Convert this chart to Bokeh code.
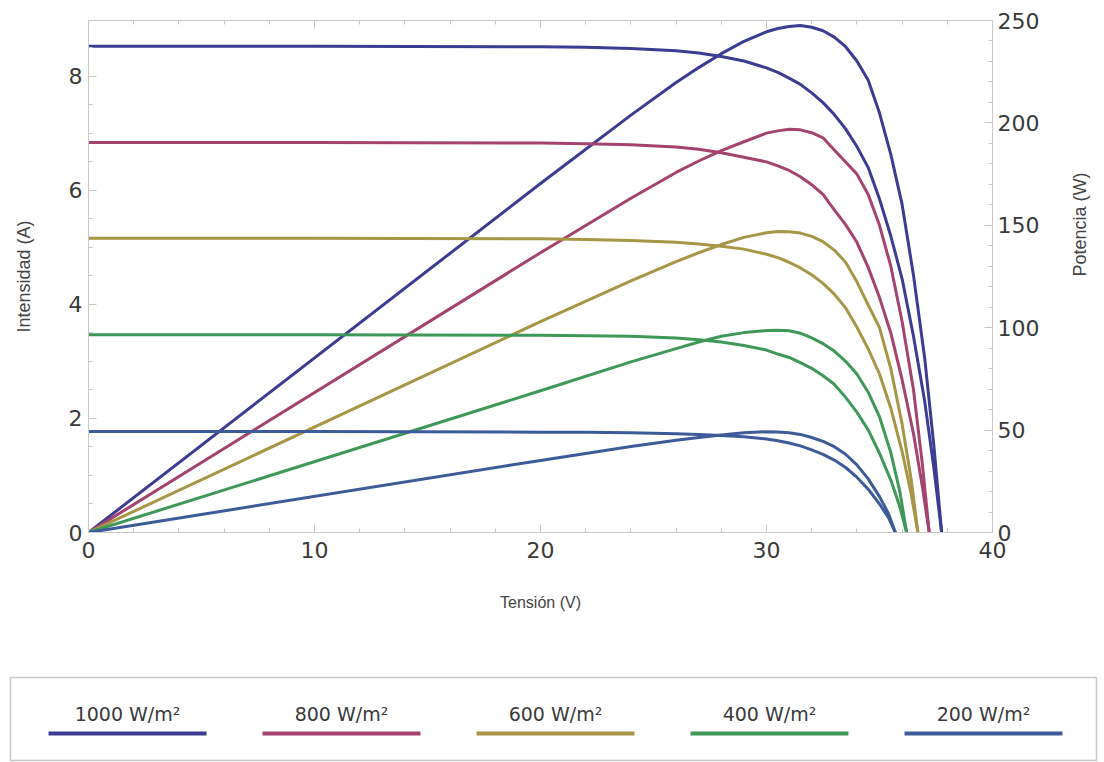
import math
from bokeh.plotting import figure
from bokeh.models import Range1d, LinearAxis, SingleIntervalTicker, CustomJSTickFormatter, ColumnDataSource
from bokeh.embed import file_html
from bokeh.resources import INLINE
from bokeh.core.properties import value

# ---------------- data ----------------
labels = ["1000 W/m\u00b2", "800 W/m\u00b2", "600 W/m\u00b2", "400 W/m\u00b2", "200 W/m\u00b2"]
colors = ["#3b3c92", "#a5436f", "#a69646", "#3e9858", "#3d5b98"]

# current (A) vs voltage (V)
v_i_1000 = [0, 10, 20, 22, 24, 26, 27, 28, 29, 30, 30.5, 31, 31.5, 32, 32.5, 33, 33.5, 34, 34.5, 35, 35.5, 36, 36.5, 37, 37.4, 37.75]
i_1000 = [8.53, 8.53, 8.52, 8.51, 8.49, 8.45, 8.41, 8.35, 8.27, 8.15, 8.07, 7.97, 7.86, 7.71, 7.54, 7.33, 7.08, 6.77, 6.40, 5.85, 5.20, 4.45, 3.45, 2.30, 1.15, 0]
v_i_800 = [0, 10, 20, 22, 24, 26, 27, 28, 29, 30, 30.5, 31, 31.5, 32, 32.5, 33, 33.5, 34, 34.5, 35, 35.5, 36, 36.5, 36.9, 37.2]
i_800 = [6.84, 6.84, 6.83, 6.82, 6.80, 6.76, 6.72, 6.66, 6.58, 6.50, 6.43, 6.35, 6.24, 6.10, 5.93, 5.66, 5.40, 5.09, 4.65, 4.12, 3.50, 2.68, 1.74, 0.80, 0]
v_i_600 = [0, 10, 20, 22, 24, 26, 27, 28, 29, 30, 30.5, 31, 31.5, 32, 32.5, 33, 33.5, 34, 34.5, 35, 35.5, 36, 36.4, 36.7]
i_600 = [5.16, 5.16, 5.15, 5.14, 5.12, 5.09, 5.06, 5.02, 4.97, 4.88, 4.82, 4.74, 4.64, 4.52, 4.37, 4.18, 3.94, 3.60, 3.22, 2.78, 2.18, 1.42, 0.68, 0]
v_i_400 = [0, 10, 20, 22, 24, 26, 27, 28, 29, 30, 30.5, 31, 31.5, 32, 32.5, 33, 33.5, 34, 34.5, 35, 35.5, 35.9, 36.2]
i_400 = [3.47, 3.47, 3.46, 3.45, 3.44, 3.41, 3.38, 3.34, 3.28, 3.20, 3.13, 3.07, 2.98, 2.88, 2.75, 2.60, 2.37, 2.11, 1.80, 1.39, 0.92, 0.45, 0]
v_i_200 = [0, 10, 20, 22, 24, 26, 27, 28, 29, 30, 30.5, 31, 31.5, 32, 32.5, 33, 33.5, 34, 34.5, 35, 35.4, 35.7]
i_200 = [1.77, 1.77, 1.76, 1.76, 1.75, 1.73, 1.72, 1.70, 1.68, 1.64, 1.61, 1.57, 1.52, 1.45, 1.37, 1.27, 1.14, 0.97, 0.76, 0.50, 0.26, 0]

# power (W) vs voltage (V)
v_p_1000 = [0, 20, 24, 26, 27, 28, 29, 30, 30.5, 31, 31.5, 32, 32.5, 33, 33.5, 34, 34.5, 35, 35.5, 36, 36.5, 37, 37.4, 37.75]
p_1000 = [0, 170.4, 203.8, 219.7, 227, 233.8, 239.8, 244.5, 246.1, 247.1, 247.6, 246.7, 245, 241.9, 237.2, 230.2, 220.8, 204.8, 184.6, 160.2, 125.9, 85.1, 43, 0]
v_p_800 = [0, 20, 24, 26, 27, 28, 29, 30, 30.5, 31, 31.5, 32, 32.5, 33, 33.5, 34, 34.5, 35, 35.5, 36, 36.5, 36.9, 37.2]
p_800 = [0, 136.6, 163.2, 175.8, 181.4, 186.5, 190.8, 195, 196.1, 196.9, 196.6, 195.2, 192.7, 186.8, 180.9, 175, 165, 150, 130, 103, 70, 33, 0]
v_p_600 = [0, 20, 24, 26, 27, 28, 29, 30, 30.5, 31, 31.5, 32, 32.5, 33, 33.5, 34, 34.5, 35, 35.5, 36, 36.4, 36.7]
p_600 = [0, 103, 122.9, 132.3, 136.6, 140.6, 144.1, 146.4, 147, 146.9, 146.2, 144.6, 142, 137.9, 132, 122.4, 111.1, 100, 80, 53, 26, 0]
v_p_400 = [0, 20, 24, 26, 27, 28, 29, 30, 30.5, 31, 31.5, 32, 32.5, 33, 33.5, 34, 34.5, 35, 35.5, 35.9, 36.2]
p_400 = [0, 69.2, 83.3, 89.8, 93, 95.8, 97.6, 98.6, 98.8, 98.5, 97.3, 95, 92.2, 88.6, 83.6, 77.4, 68.5, 56.5, 39, 20, 0]
v_p_200 = [0, 20, 24, 26, 27, 28, 29, 30, 30.5, 31, 31.5, 32, 32.5, 33, 33.5, 34, 34.5, 35, 35.4, 35.7]
p_200 = [0, 35.2, 42, 45, 46.4, 47.6, 48.7, 49.2, 49.1, 48.7, 47.9, 46.4, 44.5, 41.9, 38.2, 33, 26.2, 17.5, 9.2, 0]

iv_curves = [(v_i_1000, i_1000), (v_i_800, i_800), (v_i_600, i_600), (v_i_400, i_400), (v_i_200, i_200)]
pv_curves = [(v_p_1000, p_1000), (v_p_800, p_800), (v_p_600, p_600), (v_p_400, p_400), (v_p_200, p_200)]

x_label = "Tensi\u00f3n (V)"
y_left_label = "Intensidad (A)"
y_right_label = "Potencia (W)"

# ---------------- main figure ----------------
TICK_FONT = "DejaVu Sans"
LABEL_FONT = "Liberation Sans"
AX_COL = "#c8c8c8"
TXT_COL = "#3a3a3a"

p = figure(width=1104, height=640, x_range=Range1d(0, 40), y_range=Range1d(0, 8.98),
           toolbar_location=None, output_backend="svg",
           min_border_left=88, min_border_right=112, min_border_top=20, min_border_bottom=108,
           x_axis_location=None, y_axis_location=None)
p.extra_y_ranges = {"power": Range1d(0, 250)}
p.xgrid.visible = False
p.ygrid.visible = False
p.outline_line_color = AX_COL
p.background_fill_color = "white"
p.border_fill_color = "white"


def style(ax, font_size="22px", label_size="16px"):
    ax.axis_line_color = AX_COL
    ax.major_tick_line_color = AX_COL
    ax.minor_tick_line_color = AX_COL
    ax.major_tick_in = 8
    ax.major_tick_out = 0
    ax.minor_tick_in = 4
    ax.minor_tick_out = 0
    ax.major_label_text_font = TICK_FONT
    ax.major_label_text_font_size = font_size
    ax.major_label_text_color = TXT_COL
    ax.axis_label_text_font = LABEL_FONT
    ax.axis_label_text_font_size = label_size
    ax.axis_label_text_font_style = "normal"
    ax.axis_label_text_color = "#444444"


ax_b = LinearAxis(ticker=SingleIntervalTicker(interval=10, num_minor_ticks=5), axis_label=x_label)
style(ax_b)
ax_b.major_label_standoff = 9
ax_b.axis_label_standoff = 33
p.add_layout(ax_b, "below")

ax_t = LinearAxis(ticker=SingleIntervalTicker(interval=10, num_minor_ticks=5),
                  formatter=CustomJSTickFormatter(code="return ''"))
style(ax_t, "1px")
ax_t.major_label_standoff = 0
p.add_layout(ax_t, "above")

ax_l = LinearAxis(ticker=SingleIntervalTicker(interval=2, num_minor_ticks=4), axis_label=y_left_label)
style(ax_l, label_size="18px")
ax_l.major_label_standoff = 6
ax_l.axis_label_standoff = 32
p.add_layout(ax_l, "left")

ax_r = LinearAxis(y_range_name="power", ticker=SingleIntervalTicker(interval=50, num_minor_ticks=5),
                  axis_label=y_right_label)
style(ax_r, label_size="18px")
ax_r.major_label_standoff = 5
ax_r.axis_label_standoff = 38
ax_r.axis_label_orientation = math.pi / 2
p.add_layout(ax_r, "right")

for (vi, ii), (vp, pp), c in zip(iv_curves, pv_curves, colors):
    p.line(vi, ii, line_color=c, line_width=3, line_join="round", line_cap="round")
    p.line(vp, pp, line_color=c, line_width=3, line_join="round", line_cap="round", y_range_name="power")

# ---------------- legend figure (separate root, no frame alignment) ----------------
lf = figure(width=1104, height=122, x_range=Range1d(0, 1086), y_range=Range1d(0, 83),
            toolbar_location=None, output_backend="svg",
            min_border_left=10, min_border_right=8, min_border_top=37, min_border_bottom=2,
            x_axis_location=None, y_axis_location=None)
lf.xgrid.visible = False
lf.ygrid.visible = False
lf.outline_line_color = AX_COL
lf.outline_line_width = 1.5
lf.border_fill_color = "white"

centers = [117 + 214 * k for k in range(len(labels))]
leg = ColumnDataSource(dict(
    x0=[c - 79 for c in centers], x1=[c + 79 for c in centers],
    xc=centers, yl=[27] * len(labels), yt=[47] * len(labels),
    text=labels, color=colors))
lf.segment(x0="x0", x1="x1", y0="yl", y1="yl", line_color="color", line_width=4, source=leg)
lf.text(x="xc", y="yt", text="text", source=leg, text_align="center", text_baseline="middle",
        text_font=value(TICK_FONT), text_font_size="19px", text_color=TXT_COL)

open("out.html", "w").write(file_html([p, lf], INLINE))
